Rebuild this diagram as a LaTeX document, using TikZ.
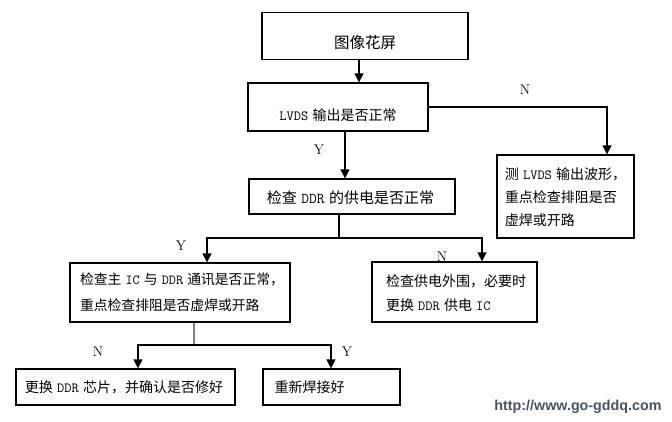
\documentclass[tikz,border=0pt]{standalone}
\usepackage{fontspec}
\newfontfamily\cjk{Noto Sans CJK SC}
\newfontfamily\wmfont{Liberation Sans}
\usetikzlibrary{arrows.meta}
\newcommand\hs{\hspace{0.3em}}
\newcommand\lat[1]{{\ttfamily#1}}
\begin{document}
\begin{tikzpicture}[x=1pt,y=-1pt,
  box/.style={draw, line width=1.2pt, inner sep=0pt},
  txt/.style={inner sep=0pt, align=left},
  conn/.style={line width=1.2pt},
  arr/.style={conn,-{Triangle[width=9pt,length=9pt]}},
  yn/.style={font=\fontsize{14}{16}\selectfont}]
\useasboundingbox (0,0) rectangle (672,422);
\fill[white] (0,0) rectangle (672,422);
% boxes
\node[box, minimum width=206pt, minimum height=47pt] (b1) at (365,36) {};
\node[box, minimum width=180pt, minimum height=48pt] (b2) at (338,107) {};
\node[box, minimum width=206pt, minimum height=35pt] (b3) at (352,196.5) {};
\node[box, minimum width=137pt, minimum height=83pt] (b6) at (565.5,196.5) {};
\node[box, minimum width=220pt, minimum height=59pt] (b4) at (180,292.5) {};
\node[box, minimum width=165pt, minimum height=60pt] (b5) at (454.5,292) {};
\node[box, minimum width=219pt, minimum height=36pt] (b7) at (125.5,387) {};
\node[box, minimum width=137pt, minimum height=36pt] (b8) at (331.5,387) {};
% texts
\node[txt, font=\cjk\fontsize{15.5}{18}\selectfont] (t1) at ([yshift=-7pt]b1.center) {图像花屏};
\node[txt, font=\cjk\fontsize{14}{18}\selectfont] (t2) at ([yshift=-8pt]b2.center) {\lat{LVDS}\hs 输出是否正常};
\node[txt, font=\cjk\fontsize{15}{18}\selectfont] (t3) at ([yshift=-1.5pt,xshift=-1.5pt]b3.center) {检查\hs\lat{DDR}\hs 的供电是否正常};
\node[txt, font=\cjk\fontsize{14}{23}\selectfont] (t6) at ([yshift=-0.5pt]b6.center) {测\hs\lat{LVDS}\hs 输出波形，\\重点检查排阻是否\\虚焊或开路};
\node[txt, font=\cjk\fontsize{13.8}{26}\selectfont] (t4) at ([xshift=2pt]b4.center) {检查主\hs\lat{IC}\hs 与\hs\lat{DDR}\hs 通讯是否正常，\\重点检查排阻是否虚焊或开路};
\node[txt, font=\cjk\fontsize{14}{24}\selectfont] (t5) at ([yshift=-1pt,xshift=1.5pt]b5.center) {检查供电外围，必要时\\更换\hs\lat{DDR}\hs 供电\hs\lat{IC}};
\node[txt, font=\cjk\fontsize{14}{18}\selectfont] (t7) at ([xshift=-1.5pt]b7.center) {更换\hs\lat{DDR}\hs 芯片，并确认是否修好};
\node[txt, font=\cjk\fontsize{14}{18}\selectfont] (t8) at ([xshift=-22pt]b8.center) {重新焊接好};
% connectors
\draw[arr] ([xshift=-6pt]b1.south) -- ([xshift=-6pt]b1.south |- b2.north);
\draw[arr] (b2.east) -| ([xshift=41.5pt]b6.north);
\draw[arr] ([xshift=7pt]b2.south) -- ([xshift=7pt]b2.south |- b3.north);
\coordinate (j1) at (339,238);
\draw[conn] ([xshift=-13pt]b3.south) -- (j1);
\draw[arr] (j1) -| ([xshift=27pt]b4.north);
\draw[arr] (j1) -| ([xshift=27.5pt]b5.north);
\coordinate (j2) at (194,345);
\draw[conn, gray] ([xshift=14pt]b4.south) -- (j2);
\draw[arr] (j2) -| ([xshift=12.5pt]b7.north);
\draw[arr] (j2) -| ([xshift=-0.5pt]b8.north);
% labels
\node[yn] (n1) at (525,90) {N};
\node[yn] (y1) at (319,150) {Y};
\node[yn] (y2) at (181,246) {Y};
\node[yn] (n2) at (442,257) {N};
\node[yn] (n3) at (98,352) {N};
\node[yn] (y3) at (347,352) {Y};
% watermark
\node[font=\wmfont\bfseries\fontsize{14.3}{16}\selectfont, text={rgb,255:red,72;green,84;blue,98}, inner sep=0pt] (wm) at (578,407) {http://www.go-gddq.com};
\end{tikzpicture}
\end{document}
